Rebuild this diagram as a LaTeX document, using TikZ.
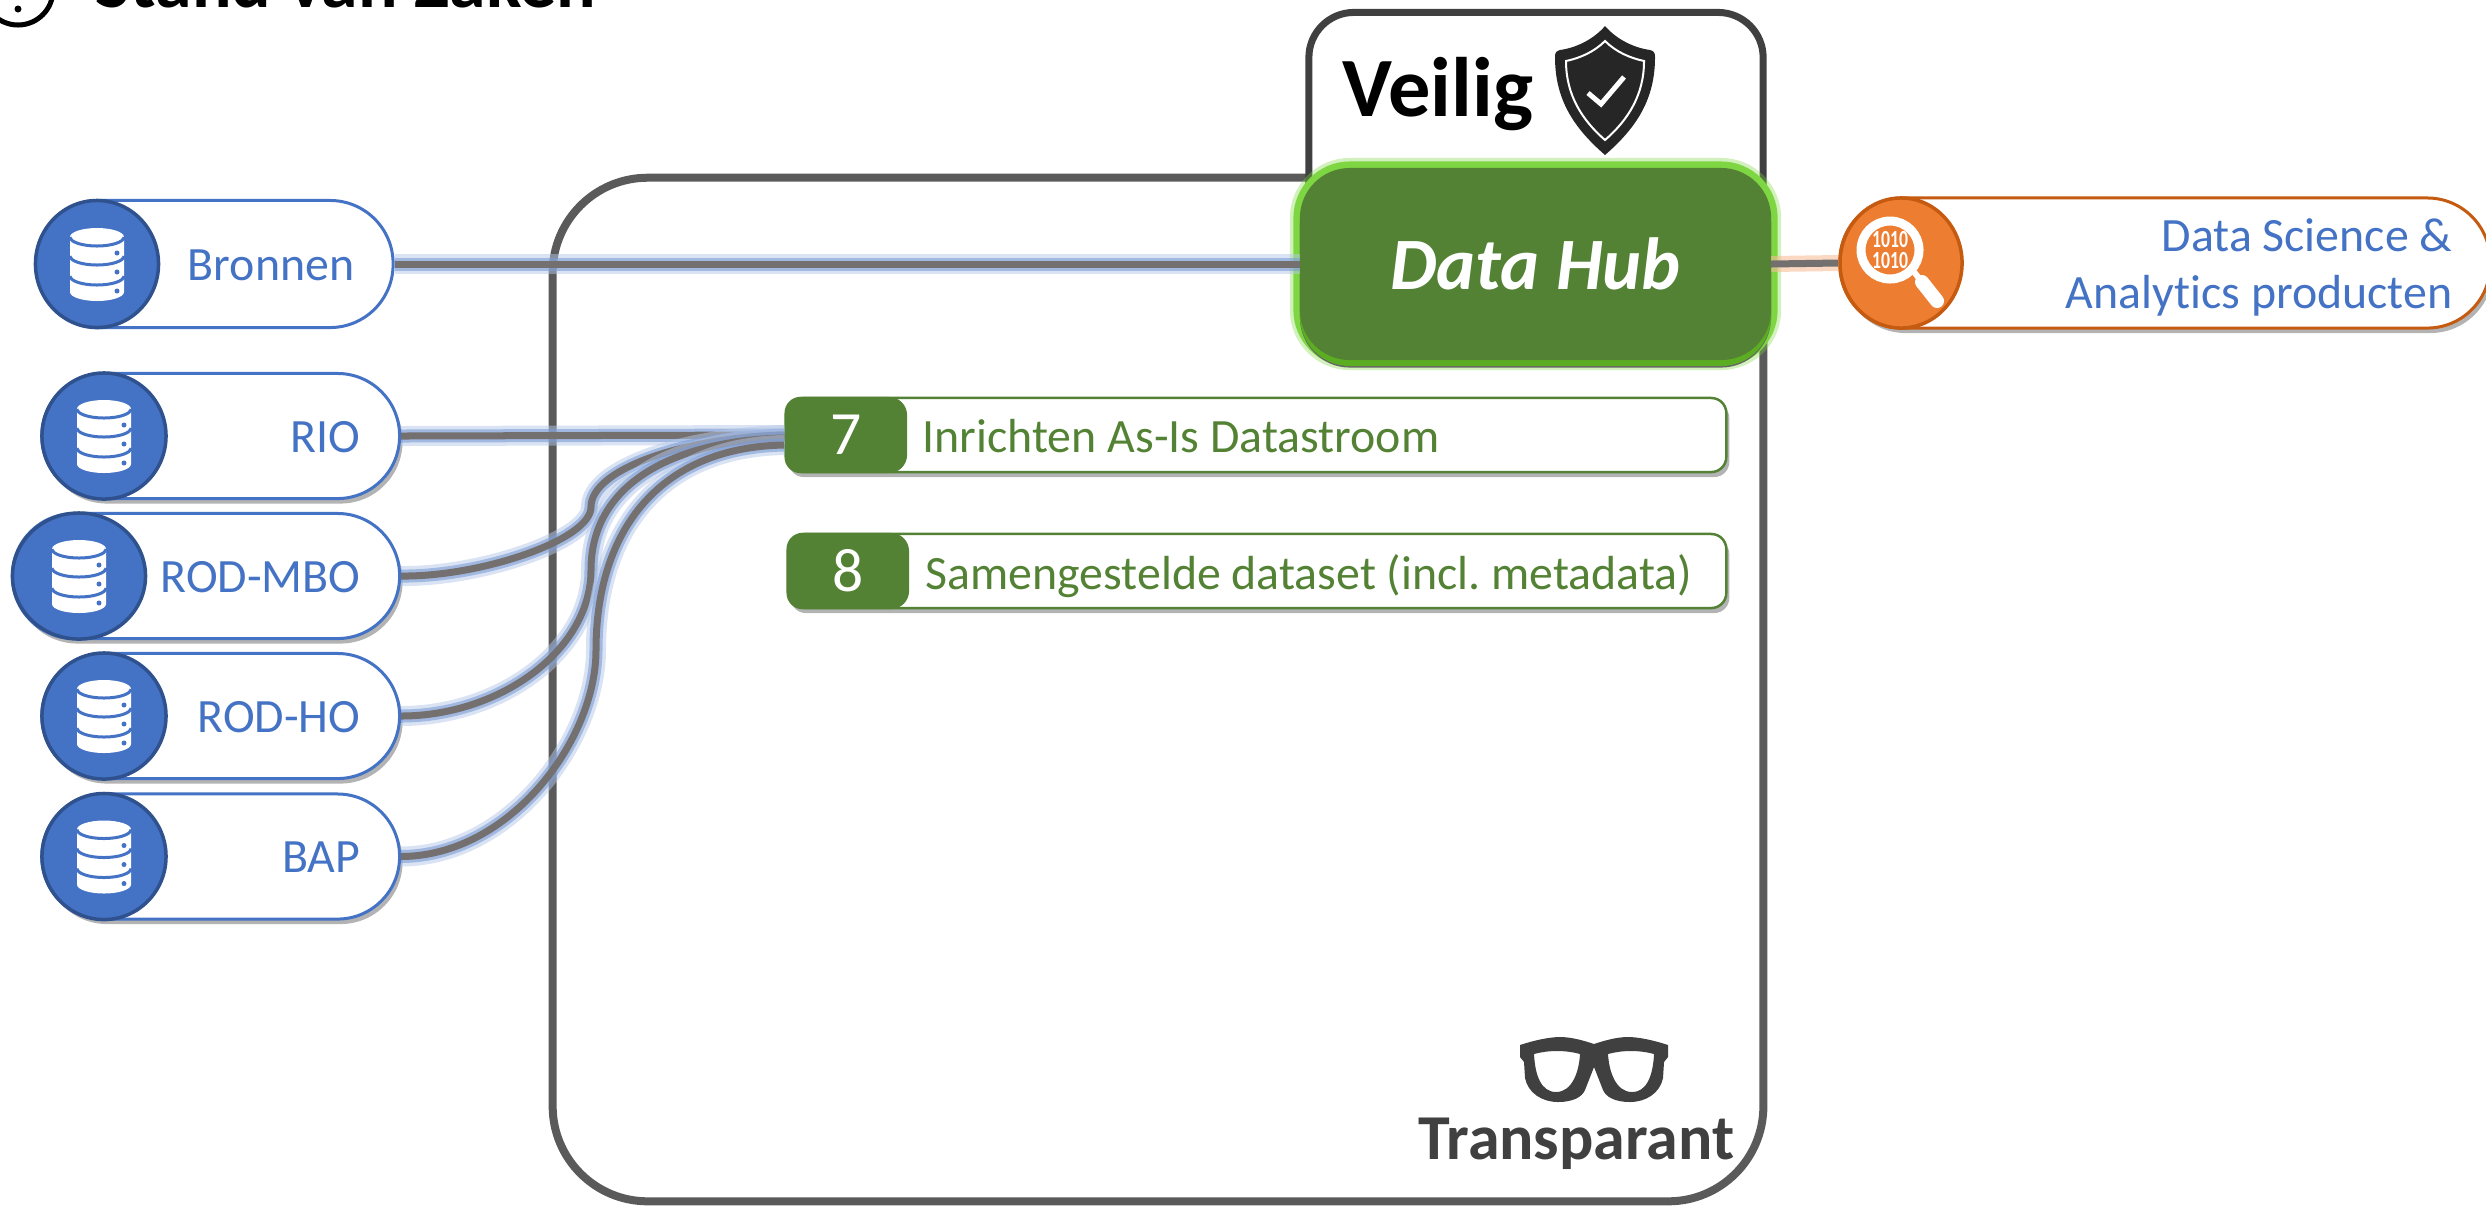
\documentclass[tikz,border=0pt]{standalone}
\usepackage{fontspec}
\setmainfont[Ligatures=NoCommon]{Carlito}
\usetikzlibrary{shadows,shapes.geometric}
\frenchspacing
\definecolor{srcblue}{HTML}{4472C4}
\definecolor{srcdark}{HTML}{2F528F}
\definecolor{stepgreen}{HTML}{548235}
\definecolor{hubglow}{HTML}{7ED642}
\definecolor{hublip}{HTML}{5BAE21}
\definecolor{outorange}{HTML}{ED7D31}
\definecolor{outdark}{HTML}{C55A11}
\definecolor{boxgrey}{HTML}{5A5A5A}
\definecolor{linkgrey}{HTML}{757070}
\def\fsize#1{\fontsize{#1}{#1}\selectfont}
\def\dbicon(#1,#2){
	\begin{scope}[shift={(#1,#2)}]
		\fill[white] (-27,-27) -- (-27,28) arc[start angle=180, end angle=0, x radius=27, y radius=9] -- (27,-27) arc[start angle=0, end angle=-180, x radius=27, y radius=9] -- cycle;
		\draw[srcblue, line width=0.03cm] (-27,-27) arc[start angle=180, end angle=0, x radius=27, y radius=9];
		\draw[srcblue, line width=0.03cm] (-27,-8) arc[start angle=180, end angle=0, x radius=27, y radius=9];
		\draw[srcblue, line width=0.03cm] (-27,12) arc[start angle=180, end angle=0, x radius=27, y radius=9];
		\fill[srcblue] (20,-11) circle (2.5);
		\fill[srcblue] (20,8) circle (2.5);
		\fill[srcblue] (20,27) circle (2.5);
	\end{scope}
}
\tikzset{
	pillshadow/.style={drop shadow={shadow xshift=0.03cm, shadow yshift=-0.05cm, fill=black!50, opacity=.6}},
	srcpill/.style={draw=srcblue, fill=white, line width=0.03cm, inner sep=0, minimum height=1.25cm, rounded corners=0.62cm},
	srcdisc/.style={ellipse, draw=srcdark, fill=srcblue, line width=0.035cm, inner sep=0, minimum height=1.26cm, minimum width=1.24cm},
	srclabel/.style={anchor=base east, text=srcblue, inner sep=0, font=\fsize{13.6}},
	link/.style={draw=linkgrey, line width=0.07cm, preaction={draw=srcblue!40, line width=0.2cm, opacity=.5}, preaction={draw=srcblue!70, line width=0.13cm, opacity=.6}},
	outlink/.style={draw=linkgrey, line width=0.07cm, preaction={draw=outorange!50, line width=0.16cm, opacity=.6}},
	stepbar/.style={draw=stepgreen, fill=white, line width=0.025cm, inner sep=0, minimum height=0.74cm, rounded corners=0.15cm, pillshadow},
	stepnum/.style={fill=stepgreen, text=white, inner sep=0, minimum height=0.76cm, minimum width=1.22cm, rounded corners=0.18cm, font=\fsize{17.5}},
	steplabel/.style={anchor=base west, text=stepgreen, inner sep=0, font=\fsize{13.6}}
}

\begin{document}
\begin{tikzpicture}[x=0.01cm, y=-0.01cm]
			%%%%% START %%%%%
			\useasboundingbox (0,0) rectangle (2486,1205);
			\clip (0,0) rectangle (2486,1205);
			
			\draw[line width=0.05cm] (18,-10) circle (35);
			\fill (18,9) circle (3.5);
			\node[anchor=base west, inner sep=0, font=\fsize{21}\bfseries] (title) at (95,7) {Stand van Zaken};
			
			\node[draw=boxgrey, line width=0.08cm, inner sep=0, outer sep=0, minimum width=12.1cm, minimum height=10.23cm, rounded corners=0.95cm] (transparantbox) at (1158,689.5) {};
			\node[draw=black!75, fill=white, line width=0.07cm, inner sep=0, outer sep=0, minimum width=4.54cm, minimum height=2.87cm, rounded corners=0.45cm] (veiligbox) at (1536,156) {};
			
			\node[anchor=base west, inner sep=0, font=\fsize{24}\bfseries] (veilig) at (1342,116) {Veilig};
			\fill[black!85] (1605,26) .. controls (1617,40) and (1635,48) .. (1650,50) .. controls (1654,51) and (1655,53) .. (1655,57) .. controls (1655,100) and (1636,128) .. (1605,155) .. controls (1574,128) and (1555,100) .. (1555,57) .. controls (1555,53) and (1556,51) .. (1560,50) .. controls (1575,48) and (1593,40) .. (1605,26) -- cycle;
			\draw[white, line width=0.02cm] (1605,41) .. controls (1616,52) and (1630,58) .. (1644,61) .. controls (1644,95) and (1628,120) .. (1605,140) .. controls (1582,120) and (1566,95) .. (1566,61) .. controls (1580,58) and (1594,52) .. (1605,41) -- cycle;
			\draw[white, line width=0.05cm] (1588,93) -- (1601,104) -- (1624,77);
			
			\node[fill=stepgreen, text=white, inner sep=0, outer sep=0, minimum width=4.71cm, minimum height=1.92cm, rounded corners=0.5cm, font=\fsize{21}\bfseries\itshape,
				preaction={draw=hubglow, line width=0.2cm, opacity=.35},
				preaction={draw=hubglow, line width=0.13cm},
				preaction={fill=black!60, transform canvas={yshift=-0.075cm}},
				preaction={fill=hublip, transform canvas={yshift=-0.06cm}}] (hub) at (1535.5,264) {Data Hub};
			
			\node[srcpill, minimum width=3.57cm, rounded corners=0.63cm, minimum height=1.27cm] (bronnen) at (214.5,264) {};
			\node[srcdisc, minimum height=1.27cm, minimum width=1.23cm] (bronnendisc) at (97,264) {};
			\dbicon(97,264)
			\node[srclabel] (bronnenlabel) at (355,280) {Bronnen};
			
			\node[srcpill, pillshadow, minimum width=3.575cm] (rio) at (220.7,436) {};
			\node[srcdisc] (riodisc) at (104,436) {};
			\dbicon(104,436)
			\node[srclabel] (riolabel) at (361,452) {RIO};
			
			\node[srcpill, pillshadow, minimum width=3.87cm] (rodmbo) at (206,576) {};
			\node[srcdisc, minimum width=1.33cm] (rodmbodisc) at (79,576) {};
			\dbicon(79,576)
			\node[srclabel] (rodmbolabel) at (361,592) {ROD-MBO};
			
			\node[srcpill, pillshadow, minimum width=3.575cm] (rodho) at (220.7,716) {};
			\node[srcdisc] (rodhodisc) at (104,716) {};
			\dbicon(104,716)
			\node[srclabel] (rodholabel) at (361,732) {ROD-HO};
			
			\node[srcpill, pillshadow, minimum width=3.575cm] (bap) at (220.7,856.5) {};
			\node[srcdisc] (bapdisc) at (104,856.5) {};
			\dbicon(104,856.5)
			\node[srclabel] (baplabel) at (361,872.5) {BAP};
			
			\node[stepbar, minimum width=9.4cm] (stap7bar) at (1256,435) {};
			\node[stepnum] (stap7) at (846,435) {7};
			\node[steplabel] (stap7label) at (922,452) {Inrichten As-Is Datastroom};
			
			\node[stepbar, minimum width=9.38cm] (stap8bar) at (1257,571) {};
			\node[stepnum] (stap8) at (848,571) {8};
			\node[steplabel] (stap8label) at (925,589) {Samengestelde dataset (incl. metadata)};
			
			\node[draw=outdark, fill=white, line width=0.03cm, inner sep=0, minimum width=6.5cm, minimum height=1.3cm, rounded corners=0.63cm, pillshadow] (dsproducten) at (2165,263) {};
			\node[ellipse, draw=outdark, fill=outorange, line width=0.035cm, inner sep=0, minimum width=1.22cm, minimum height=1.3cm] (dsdisc) at (1901,263) {};
			\draw[white, line width=0.09cm] (1890,250) circle (29);
			\draw[white, line width=0.06cm] (1914,272) -- (1922,282);
			\draw[white, line width=0.14cm, line cap=round] (1922,282) -- (1937,301);
			\node[text=white, inner sep=0, align=center, font=\fontsize{7}{6}\selectfont\bfseries] (dsbits) at (1890,250) {\scalebox{.72}[1]{1010}\\\scalebox{.72}[1]{1010}};
			\node[anchor=base east, text=srcblue, inner sep=0, align=right, font=\fontsize{13.6}{16}\selectfont] (dslabel) at (2453,308) {Data Science \&\\Analytics producten};
			
			\draw[link] (bronnen.east) -- (hub.west);
			\draw[link] (rio.east) -- (stap7.west);
			\draw[link] (rodmbo.east) .. controls (480,577) and (591,540) .. (591,507) .. controls (591,470) and (680,438) .. (stap7.west);
			\draw[link] (rodho.east) .. controls (500,716) and (591,650) .. (591,570) .. controls (591,480) and (680,440) .. ([yshift=-0.03cm]stap7.west);
			\draw[link] (bap.east) .. controls (510,856) and (596,740) .. (596,650) .. controls (596,530) and (660,447) .. ([yshift=-0.1cm]stap7.west);
			\draw[outlink] (hub.east) -- (dsdisc.west);
			
			\fill[black!75, even odd rule] (1520,1045) .. controls (1535,1040) and (1550,1037) .. (1560,1037) .. controls (1572,1037) and (1585,1041) .. (1594,1044) .. controls (1603,1041) and (1616,1037) .. (1628,1037) .. controls (1638,1037) and (1653,1040) .. (1668,1045) -- (1668,1057) -- (1664,1062) -- (1663,1078) .. controls (1660,1093) and (1646,1102) .. (1630,1102) .. controls (1615,1102) and (1606,1097) .. (1603,1090) -- (1594,1067) -- (1585,1090) .. controls (1582,1097) and (1573,1102) .. (1558,1102) .. controls (1542,1102) and (1528,1093) .. (1525,1078) -- (1524,1062) -- (1520,1057) -- cycle
				(1534,1054) .. controls (1548,1050) and (1566,1050) .. (1580,1054) .. controls (1579,1072) and (1572,1092) .. (1556,1092) .. controls (1541,1092) and (1535,1075) .. (1534,1054) -- cycle
				(1654,1054) .. controls (1640,1050) and (1622,1050) .. (1608,1054) .. controls (1609,1072) and (1616,1092) .. (1632,1092) .. controls (1647,1092) and (1653,1075) .. (1654,1054) -- cycle;
			\node[anchor=base east, text=black!75, inner sep=0, font=\fsize{18.2}\bfseries] (transparant) at (1735,1159) {Transparant};
			%%%%% END %%%%%
\end{tikzpicture}
\end{document}
